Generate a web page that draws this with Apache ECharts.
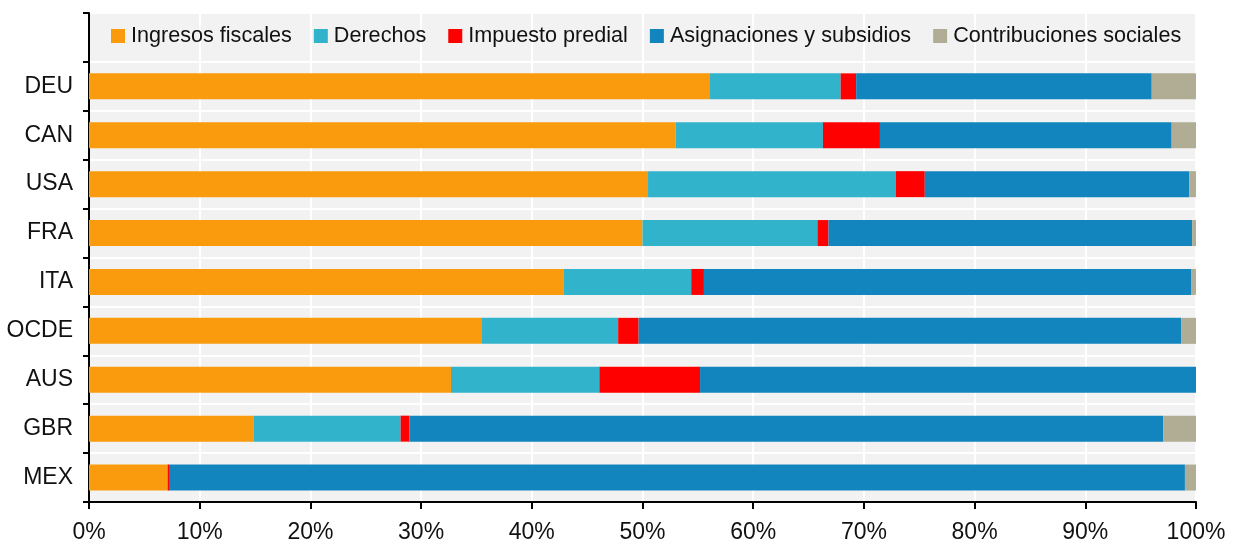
<!DOCTYPE html>
<html>
<head>
<meta charset="utf-8">
<script src="https://cdn.jsdelivr.net/npm/echarts@6/dist/echarts.min.js"></script>
<style>
  html, body { margin: 0; padding: 0; background: #fff; }
  #chart { width: 1234px; height: 545px; }
</style>
</head>
<body>
<div id="chart"></div>
<script>
// países, de arriba hacia abajo
const countries = ['DEU', 'CAN', 'USA', 'FRA', 'ITA', 'OCDE', 'AUS', 'GBR', 'MEX']
const seriesNames = ['Ingresos fiscales', 'Derechos', 'Impuesto predial', 'Asignaciones y subsidios', 'Contribuciones sociales']

// % del total por país
const ingresosFiscales = [56.1, 53.0, 50.5, 50.0, 42.9, 35.5, 32.7, 14.85, 7.1]
const derechos = [11.8, 13.3, 22.4, 15.8, 11.5, 12.3, 13.4, 13.3, 0]
const impuestoPredial = [1.4, 5.15, 2.6, 1.0, 1.15, 1.85, 9.1, 0.8, 0.2]
const asignaciones = [26.7, 26.35, 23.9, 32.85, 44.0, 49.0, 44.8, 68.1, 91.7]
const contribuciones = [4.0, 2.2, 0.6, 0.35, 0.45, 1.35, 0, 2.95, 1.0]

const xTicks = [0, 10, 20, 30, 40, 50, 60, 70, 80, 90, 100]

const colors = ['#f99b0c', '#32b3cc', '#ff0000', '#1385be', '#b1ad95']
const fontFamily = '"Liberation Sans Narrow", "Arial Narrow", "Liberation Sans", Arial, sans-serif'

const chart = echarts.init(document.getElementById('chart'))

// la banda de arriba queda vacía para la leyenda
const yCats = [''].concat(countries)
const allData = [ingresosFiscales, derechos, impuestoPredial, asignaciones, contribuciones]

const series = seriesNames.map((name, i) => ({
  name: name,
  type: 'bar',
  stack: 'total',
  barWidth: 26,
  itemStyle: { color: colors[i] },
  emphasis: { disabled: true },
  data: [null].concat(allData[i]),
}))

const option = {
  animation: false,
  backgroundColor: '#fff',
  color: colors,
  textStyle: { fontFamily: fontFamily },
  grid: {
    left: 89,
    right: 38,
    top: 13,
    bottom: 43,
    show: true,
    backgroundColor: '#f2f2f2',
    borderWidth: 0,
  },
  legend: {
    left: 111,
    top: 25,
    padding: 0,
    itemWidth: 14,
    itemHeight: 14,
    itemGap: 22,
    icon: 'rect',
    textStyle: { fontFamily: fontFamily, fontSize: 21.6, color: '#111', padding: [0, 0, 0, 1] },
    data: seriesNames,
  },
  xAxis: {
    type: 'value',
    min: xTicks[0],
    max: xTicks[xTicks.length - 1],
    interval: 10,
    axisLine: { show: true, lineStyle: { color: '#000', width: 2 } },
    axisTick: { show: true, length: 7, lineStyle: { color: '#000', width: 2 } },
    axisLabel: {
      formatter: '{value}%',
      fontFamily: fontFamily,
      fontSize: 23,
      color: '#111',
      margin: 19,
    },
    splitLine: { show: true, lineStyle: { color: '#fff', width: 2 } },
  },
  yAxis: {
    type: 'category',
    inverse: true,
    data: yCats,
    axisLine: { show: true, lineStyle: { color: '#000', width: 2 } },
    axisTick: { show: true, length: 6, lineStyle: { color: '#000', width: 2 } },
    axisLabel: {
      fontFamily: fontFamily,
      fontSize: 23,
      color: '#111',
      margin: 16,
    },
    splitLine: { show: true, lineStyle: { color: '#fff', width: 2 } },
  },
  series: series,
}

chart.setOption(option)
</script>
</body>
</html>
